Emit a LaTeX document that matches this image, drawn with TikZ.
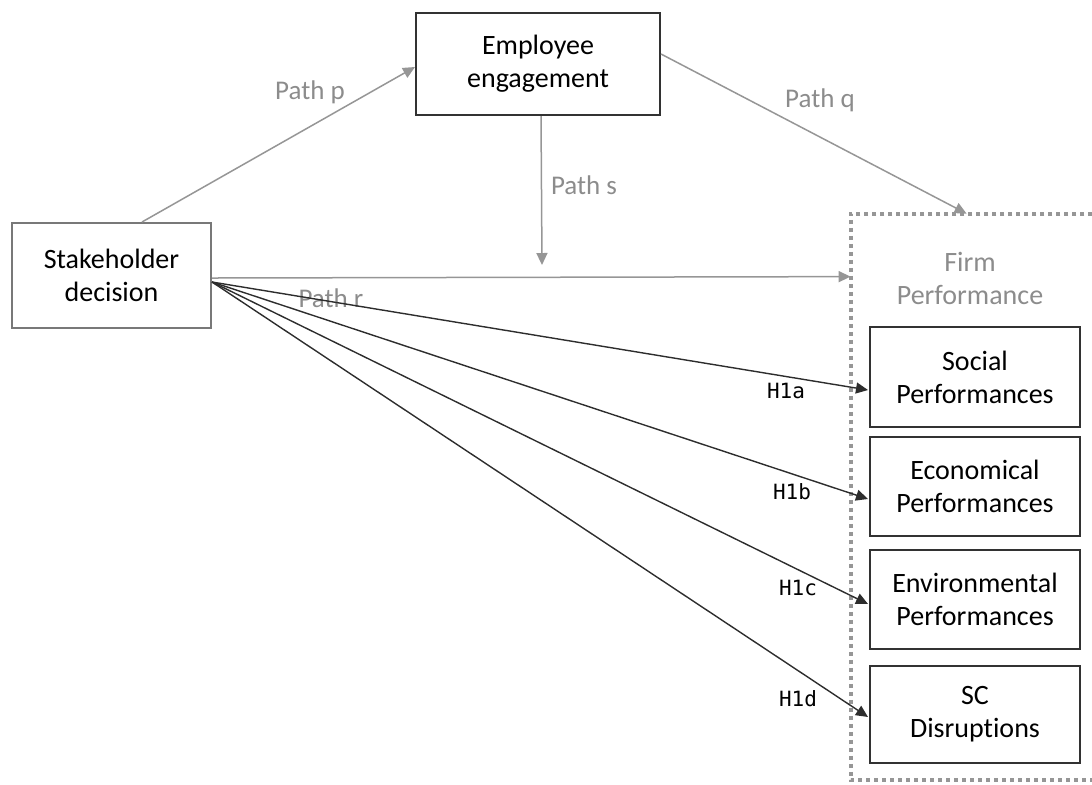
\documentclass[tikz,border=0pt]{standalone}
\usepackage{fontspec}
\setmainfont[Ligatures=NoCommon]{Carlito}
\newfontfamily\hfont{DejaVu Sans Mono}
\usetikzlibrary{arrows.meta,calc}
\definecolor{boxline}{RGB}{50,50,50}
\definecolor{softline}{RGB}{120,120,120}
\definecolor{pathgray}{RGB}{150,150,150}
\definecolor{labelgray}{RGB}{140,140,140}
\definecolor{arrowdark}{RGB}{45,45,45}
\tikzset{
  box/.style={draw=boxline, line width=1pt, fill=white, inner sep=0pt, align=center,
    font=\fontsize{14}{16.5}\selectfont, text=black},
  grayarrow/.style={draw=pathgray, line width=0.75pt, -{Triangle[length=6pt,width=5.5pt]}},
  hyparrow/.style={draw=arrowdark, line width=0.7pt, -{Triangle[length=6pt,width=5.5pt]}},
  pathlabel/.style={text=labelgray, font=\fontsize{13.5}{16}\selectfont, inner sep=0pt},
  hlabel/.style={text=black, font=\hfont\fontsize{10.5}{12}\selectfont, inner sep=0pt},
  firmline/.style={draw=pathgray, line width=2pt, dash pattern=on 2pt off 2pt}
}
\begin{document}
\begin{tikzpicture}[x=0.5pt,y=-0.5pt]
\useasboundingbox (0,0) rectangle (1092,784);
\clip (0,0) rectangle (1092,784);

% firm performance frame: open on the right, it runs off the edge
\node[inner sep=0pt, minimum width=249*0.5pt, minimum height=566*0.5pt] (firm) at (975.5,497) {};
\draw[firmline] (firm.north east) -- (firm.north west) -- (firm.south west) -- (firm.south east);
\node[text=labelgray, align=center, font=\fontsize{14}{16.5}\selectfont] (firmlbl) at (970,278) {Firm\\Performance};

% main constructs
\node[box, draw=softline, minimum width=199*0.5pt, minimum height=105*0.5pt] (sd) at (111.5,275.5) {Stakeholder\\decision};
\node[box, minimum width=244*0.5pt, minimum height=102*0.5pt] (ee) at (538,64) {Employee\\engagement};

% outcome boxes
\node[box, minimum width=210*0.5pt, minimum height=100*0.5pt] (soc) at (975,377) {Social\\Performances};
\node[box, minimum width=210*0.5pt, minimum height=99*0.5pt] (eco) at (975,486.5) {Economical\\Performances};
\node[box, minimum width=210*0.5pt, minimum height=99*0.5pt] (env) at (975,599.5) {Environmental\\Performances};
\node[box, minimum width=210*0.5pt, minimum height=97*0.5pt] (scd) at (975,714.5) {SC\\Disruptions};

% labels that sit under the connectors
\node[pathlabel] (lr) at (331,298) {Path r};

% mediation paths
\coordinate (sdhub) at ($(sd.east)+(0,6.5)$);
\coordinate (send) at (542,265);
\draw[grayarrow] ($(sd.north west)+(131,0)$) -- ($(ee.west)+(0,3)$);
\draw[grayarrow] ($(ee.north east)+(0,42)$) -- ($(firm.north west)+(116,0)$);
\draw[grayarrow] ($(ee.south west)+(126,0)$) -- (send);
\draw[grayarrow] ($(sd.east)+(0,2.5)$) -- ($(firm.north west)+(0,63)$);

\node[pathlabel] (lp) at (310,92) {Path p};
\node[pathlabel] (lq) at (820,100) {Path q};
\node[pathlabel] (ls) at (584,185) {Path s};

% hypothesised direct effects
\draw[hyparrow] (sdhub) -- ($(soc.west)+(-1,13)$);
\draw[hyparrow] (sdhub) -- ($(eco.west)+(-1,12.5)$);
\draw[hyparrow] (sdhub) -- ($(env.west)+(-1,4.5)$);
\draw[hyparrow] (sdhub) -- ($(scd.west)+(-1,2.5)$);

\node[hlabel] (h1a) at (786,391) {H1a};
\node[hlabel] (h1b) at (792,492) {H1b};
\node[hlabel] (h1c) at (798,588) {H1c};
\node[hlabel] (h1d) at (798,699) {H1d};
\end{tikzpicture}
\end{document}
